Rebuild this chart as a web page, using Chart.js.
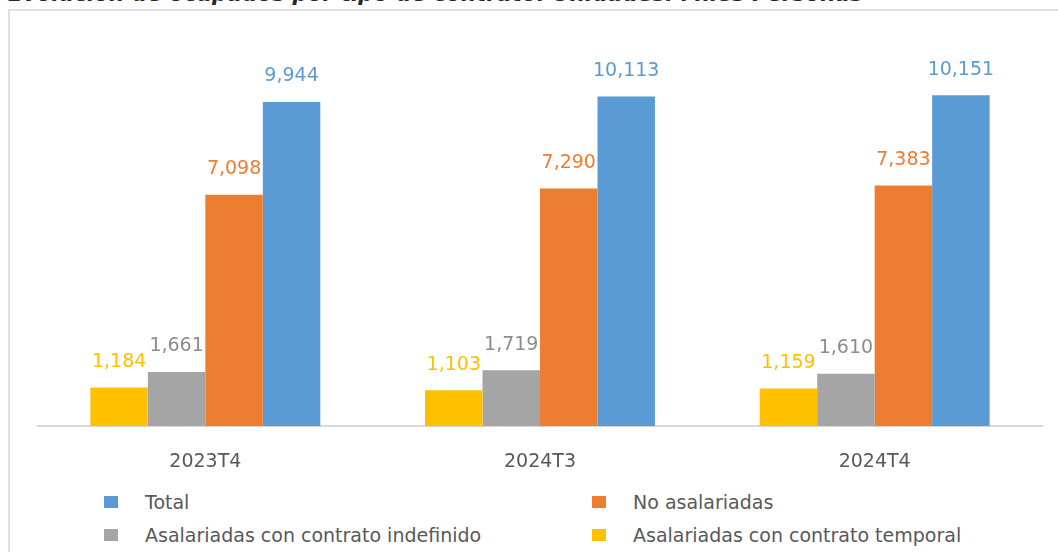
<!DOCTYPE html>
<html>
<head>
<meta charset="utf-8">
<script src="https://cdn.jsdelivr.net/npm/chart.js@4"></script>
<style>
  html, body { margin: 0; padding: 0; background: #fff; }
  body { width: 1058px; height: 552px; position: relative; overflow: hidden; font-family: "DejaVu Sans", sans-serif; }
  .title { position: absolute; left: 8px; top: -18px; font-size: 21.5px; font-weight: bold; font-style: italic; color: #262626; white-space: nowrap; line-height: 24px; }
  .frame { position: absolute; left: 8px; top: 9px; width: 1070px; height: 560px; border: 2px solid #e0e0e0; box-sizing: border-box; }
  .wrap { position: absolute; left: 0; top: 0; width: 1058px; height: 489px; }
  #legend { position: absolute; left: 104px; top: 490px; width: 950px; display: grid; grid-template-columns: 488px 460px; row-gap: 10px; font-size: 19px; color: #595959; }
  #legend .item { display: flex; align-items: center; height: 23px; white-space: nowrap; }
  #legend .box { width: 14px; height: 12px; margin-right: 27px; flex: none; }
</style>
</head>
<body>
<div class="title">Evolución de ocupados por tipo de contrato. Unidades: Miles Personas</div>
<div class="frame"></div>
<div class="wrap"><canvas id="chart"></canvas></div>
<div id="legend"></div>
<script>
const periods = ['2023T4', '2024T3', '2024T4'];
const temporal = [1184, 1103, 1159];
const indefinido = [1661, 1719, 1610];
const noAsalariadas = [7098, 7290, 7383];
const total = [9944, 10113, 10151];

const YELLOW = '#FFC000';
const GRAY = '#A5A5A5';
const ORANGE = '#ED7D31';
const BLUE = '#5B9BD5';
const FONT = '"DejaVu Sans", sans-serif';

const fmt = (n) => new Intl.NumberFormat('en-US').format(n);

// value labels over each bar, coloured like the series
const barLabels = {
    id: 'barLabels',
    afterDatasetsDraw(chart) {
        const ctx = chart.ctx;
        ctx.save();
        ctx.font = '19px ' + FONT;
        ctx.textAlign = 'center';
        ctx.textBaseline = 'bottom';
        chart.data.datasets.forEach((ds, i) => {
            chart.getDatasetMeta(i).data.forEach((bar, j) => {
                ctx.fillStyle = ds.labelColor;
                ctx.fillText(fmt(ds.data[j]), bar.x, bar.y - 16);
            });
        });
        ctx.restore();
    }
};

const chart = new Chart(document.getElementById('chart'), {
    type: 'bar',
    data: {
        labels: periods,
        datasets: [
            { label: 'Asalariadas con contrato temporal', data: temporal, backgroundColor: YELLOW, labelColor: YELLOW },
            { label: 'Asalariadas con contrato indefinido', data: indefinido, backgroundColor: GRAY, labelColor: '#8c8c8c' },
            { label: 'No asalariadas', data: noAsalariadas, backgroundColor: ORANGE, labelColor: ORANGE },
            { label: 'Total', data: total, backgroundColor: BLUE, labelColor: BLUE }
        ]
    },
    options: {
        responsive: true,
        maintainAspectRatio: false,
        animation: false,
        layout: { padding: { left: 38, right: 16, top: 35, bottom: 0 } },
        datasets: { bar: { barPercentage: 1, categoryPercentage: 0.687 } },
        plugins: { legend: { display: false }, tooltip: { enabled: false } },
        scales: {
            x: {
                grid: { display: false },
                border: { display: true, color: '#d9d9d9', width: 2 },
                ticks: { color: '#595959', padding: 16, font: { family: FONT, size: 19 } }
            },
            y: { display: false, min: 0, max: 12000 }
        }
    },
    plugins: [barLabels]
});

// two-column legend, reversed like the original
const legend = document.getElementById('legend');
chart.data.datasets.slice().reverse().forEach(ds => {
    const item = document.createElement('div');
    item.className = 'item';
    item.innerHTML = `<span class="box" style="background:${ds.backgroundColor}"></span><span>${ds.label}</span>`;
    legend.appendChild(item);
});
</script>
</body>
</html>
